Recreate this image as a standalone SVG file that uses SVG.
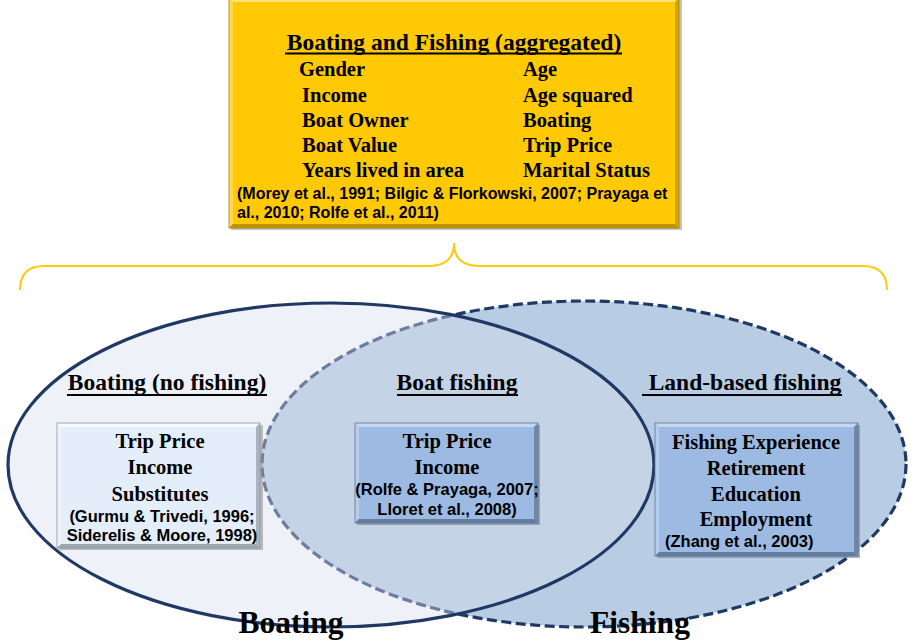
<svg xmlns="http://www.w3.org/2000/svg" width="914" height="641" viewBox="0 0 914 641">
  <style>
    .serif { font-family: "Liberation Serif", "Times New Roman", serif; font-weight: bold; fill: #000; }
    .sans { font-family: "Liberation Sans", Arial, sans-serif; font-weight: bold; fill: #000; }
    .title { font-size: 23.5px; }
    .item { font-size: 20.5px; }
    .cite { font-size: 16px; }
    .cite-box { font-size: 16.5px; }
    .big { font-size: 31.5px; }
    .uline { stroke: #000; stroke-width: 1.8; }
    .navy { stroke: #1F3864; stroke-width: 3.2; }
    .brace { fill: none; stroke: #FFC90E; stroke-width: 2; }
  </style>

  <!-- Set ellipses: Fishing drawn first so the translucent Boating fill softens its dashed outline -->
  <g id="fishing-set">
    <ellipse cx="584" cy="464" rx="322" ry="163" fill="#B8CCE4"/>
    <ellipse cx="584" cy="464" rx="322" ry="163" fill="none" class="navy" stroke-dasharray="10 4.5"/>
  </g>
  <g id="boating-set">
    <ellipse cx="331" cy="465" rx="323" ry="162" fill="#D6DEEC" fill-opacity="0.42"/>
    <ellipse cx="331" cy="465" rx="323" ry="162" fill="none" class="navy"/>
  </g>

  <!-- Aggregated box -->
  <g id="aggregated">
    <rect x="231" y="-2" width="451" height="232" fill="#9A9A9A" opacity="0.6"/>
    <rect x="229" y="-2" width="450" height="230" fill="#FFC905"/>
    <polygon points="229,-2 679,-2 675,2 233,2" fill="#FFE27A"/>
    <polygon points="229,-2 233,2 233,224 229,228" fill="#FFD84A"/>
    <polygon points="679,-2 679,228 675,224 675,2" fill="#D4A300"/>
    <polygon points="229,228 679,228 675,224 233,224" fill="#C29400"/>
    <rect x="229" y="-2" width="450" height="230" fill="none" stroke="#A88200" stroke-width="0.8"/>
    <text class="serif title" x="454" y="50" text-anchor="middle">Boating and Fishing (aggregated)</text>
    <line class="uline" x1="285" y1="53.5" x2="622" y2="53.5"/>
    <text class="serif item" x="299" y="76">Gender</text>
    <text class="serif item" x="302" y="102">Income</text>
    <text class="serif item" x="302" y="127">Boat Owner</text>
    <text class="serif item" x="302" y="152">Boat Value</text>
    <text class="serif item" x="302" y="177">Years lived in area</text>
    <text class="serif item" x="523" y="76">Age</text>
    <text class="serif item" x="523" y="102">Age squared</text>
    <text class="serif item" x="523" y="127">Boating</text>
    <text class="serif item" x="523" y="152">Trip Price</text>
    <text class="serif item" x="523" y="177">Marital Status</text>
    <text class="sans cite" x="237" y="199">(Morey et al., 1991; Bilgic &amp; Florkowski, 2007; Prayaga et</text>
    <text class="sans cite" x="237" y="218">al., 2010; Rolfe et al., 2011)</text>
  </g>

  <!-- Brace linking the aggregated box to the sets -->
  <g id="connectors">
    <path class="brace" d="M20,290 Q20,266 44,266 L428,266 Q454,266 454,243 Q454,266 480,266 L863,266 Q887,266 887,290"/>
  </g>

  <!-- Section headings -->
  <g id="heading-boating">
    <text class="serif title" x="167" y="390" text-anchor="middle">Boating (no fishing)</text>
    <line class="uline" x1="67" y1="395" x2="267" y2="395"/>
  </g>
  <g id="heading-boatfishing">
    <text class="serif title" x="457" y="390" text-anchor="middle">Boat fishing</text>
    <line class="uline" x1="397" y1="395" x2="518" y2="395"/>
  </g>
  <g id="heading-landfishing">
    <text class="serif title" x="745" y="390" text-anchor="middle">Land-based fishing</text>
    <line class="uline" x1="642" y1="395" x2="842" y2="395"/>
  </g>

  <!-- Boating (no fishing) box -->
  <g id="box-boating">
    <rect x="59" y="425" width="204" height="125" fill="#8A8A8A" opacity="0.55"/>
    <rect x="57" y="423" width="203" height="125" fill="#E4EEFA"/>
    <polygon points="57,423 260,423 256,427 61,427" fill="#F6F9FD"/>
    <polygon points="57,423 61,427 61,544 57,548" fill="#EEF3FA"/>
    <polygon points="260,423 260,548 256,544 256,427" fill="#A9B4C0"/>
    <polygon points="57,548 260,548 256,544 61,544" fill="#9BA6B2"/>
    <rect x="57" y="423" width="203" height="125" fill="none" stroke="#8C97A3" stroke-width="0.8"/>
    <text class="serif item" x="160" y="448" text-anchor="middle">Trip Price</text>
    <text class="serif item" x="160" y="474" text-anchor="middle">Income</text>
    <text class="serif item" x="160" y="501" text-anchor="middle">Substitutes</text>
    <text class="sans cite-box" x="162" y="522" text-anchor="middle">(Gurmu &amp; Trivedi, 1996;</text>
    <text class="sans cite-box" x="162" y="541" text-anchor="middle">Siderelis &amp; Moore, 1998)</text>
  </g>

  <!-- Boat fishing box -->
  <g id="box-boatfishing">
    <rect x="357" y="425" width="183" height="100" fill="#6A7890" opacity="0.55"/>
    <rect x="355" y="423" width="183" height="100" fill="#9DBBE2"/>
    <polygon points="355,423 538,423 534,427 359,427" fill="#C6D7EE"/>
    <polygon points="355,423 359,427 359,519 355,523" fill="#B5CCEA"/>
    <polygon points="538,423 538,523 534,519 534,427" fill="#6F88AA"/>
    <polygon points="355,523 538,523 534,519 359,519" fill="#647C9E"/>
    <rect x="355" y="423" width="183" height="100" fill="none" stroke="#5F7697" stroke-width="0.8"/>
    <text class="serif item" x="447" y="448" text-anchor="middle">Trip Price</text>
    <text class="serif item" x="447" y="474" text-anchor="middle">Income</text>
    <text class="sans cite-box" x="447" y="495" text-anchor="middle">(Rolfe &amp; Prayaga, 2007;</text>
    <text class="sans cite-box" x="447" y="515" text-anchor="middle">Lloret et al., 2008)</text>
  </g>

  <!-- Land-based fishing box -->
  <g id="box-landfishing">
    <rect x="657" y="425" width="203" height="133" fill="#6A7890" opacity="0.55"/>
    <rect x="655" y="423" width="203" height="133" fill="#9DBBE2"/>
    <polygon points="655,423 858,423 854,427 659,427" fill="#C6D7EE"/>
    <polygon points="655,423 659,427 659,552 655,556" fill="#B5CCEA"/>
    <polygon points="858,423 858,556 854,552 854,427" fill="#6F88AA"/>
    <polygon points="655,556 858,556 854,552 659,552" fill="#647C9E"/>
    <rect x="655" y="423" width="203" height="133" fill="none" stroke="#5F7697" stroke-width="0.8"/>
    <text class="serif item" x="756" y="449" text-anchor="middle">Fishing Experience</text>
    <text class="serif item" x="756" y="475" text-anchor="middle">Retirement</text>
    <text class="serif item" x="756" y="501" text-anchor="middle">Education</text>
    <text class="serif item" x="756" y="526" text-anchor="middle">Employment</text>
    <text class="sans cite-box" x="665" y="547">(Zhang et al., 2003)</text>
  </g>

  <!-- Set names -->
  <g id="label-boating">
    <text class="serif big" x="291" y="633" text-anchor="middle">Boating</text>
  </g>
  <g id="label-fishing">
    <text class="serif big" x="640" y="633" text-anchor="middle">Fishing</text>
  </g>
</svg>
